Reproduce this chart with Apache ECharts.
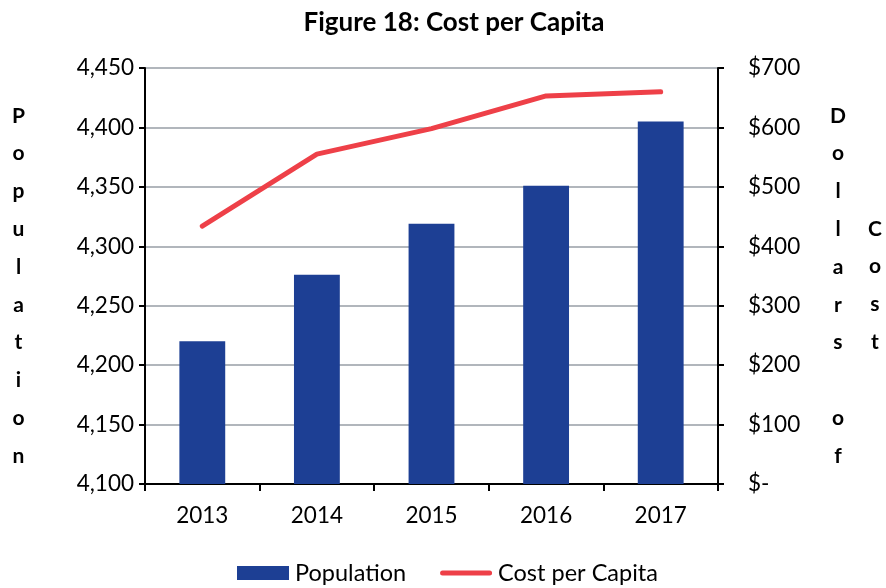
<!DOCTYPE html>
<html>
<head>
<meta charset="utf-8">
<script src="https://cdn.jsdelivr.net/npm/echarts@6/dist/echarts.min.js"></script>
<style>
  html, body { margin: 0; padding: 0; background: #fff; }
  #chart { width: 886px; height: 588px; }
</style>
</head>
<body>
<div id="chart"></div>
<script>
// Yearly population and cost per capita
const years = ['2013', '2014', '2015', '2016', '2017'];
const population = [4220, 4276, 4319, 4351, 4405];
const costPerCapita = [434, 555, 598, 653, 660];

const FONT = 'Lato';
const chart = echarts.init(document.getElementById('chart'));

// Stacked (one letter per line) axis titles
const stack = s => s.split('').join('\n');
const letterStyle = { fontFamily: FONT, fontSize: 21, fontWeight: 'bold', fill: '#000', lineHeight: 37.8, textAlign: 'center' };
const tickFont = { fontFamily: FONT, fontSize: 22.5, color: '#000' };

chart.setOption({
  animation: false,
  title: {
    text: 'Figure 18: Cost per Capita',
    left: 449, top: 5, textAlign: 'center',
    textStyle: { fontFamily: FONT, fontSize: 26, fontWeight: 'bold', color: '#000' }
  },
  grid: { left: 145, right: 168, top: 68, bottom: 104 },
  legend: {
    bottom: -2, left: 232,
    itemWidth: 52, itemHeight: 14, itemGap: 34,
    textStyle: { fontFamily: FONT, fontSize: 23.5, color: '#000', padding: [0, 0, 0, 1] },
    data: [
      { name: 'Population', icon: 'rect' },
      { name: 'Cost per Capita', icon: 'path://M2.5,0 H49.5 A2.5,2.5 0 0 1 49.5,5 H2.5 A2.5,2.5 0 0 1 2.5,0 Z' }
    ]
  },
  xAxis: {
    type: 'category', data: years,
    axisLine: { lineStyle: { color: '#000', width: 2 } },
    axisTick: { show: true, length: 7, lineStyle: { color: '#000', width: 2 } },
    axisLabel: Object.assign({ margin: 20 }, tickFont)
  },
  yAxis: [
    {
      type: 'value', min: 4100, max: 4450, interval: 50,
      axisLine: { show: true, lineStyle: { color: '#000', width: 2 } },
      axisTick: { show: true, length: 6, lineStyle: { color: '#000', width: 2 } },
      axisLabel: Object.assign({ margin: 11, formatter: v => v.toLocaleString('en-US') }, tickFont),
      splitLine: { lineStyle: { color: '#b1b6bc', width: 2 } }
    },
    {
      type: 'value', min: 0, max: 700, interval: 100,
      axisLine: { show: true, lineStyle: { color: '#000', width: 2 } },
      axisTick: { show: true, length: 6, lineStyle: { color: '#000', width: 2 } },
      axisLabel: Object.assign({ margin: 30, align: 'left',
        formatter: v => v === 0 ? '$-' : '$' + v }, tickFont),
      splitLine: { show: false }
    }
  ],
  series: [
    {
      name: 'Population', type: 'bar', data: population,
      barWidth: '40%',
      itemStyle: { color: '#1d3f94' }
    },
    {
      name: 'Cost per Capita', type: 'line', yAxisIndex: 1, data: costPerCapita,
      symbol: 'none',
      lineStyle: { color: '#ee4048', width: 5, cap: 'round' },
      itemStyle: { color: '#ee4048' }
    }
  ],
  graphic: [
    { type: 'text', left: 12, top: 97, style: Object.assign({ text: stack('Population') }, letterStyle) },
    { type: 'text', left: 830, top: 97, style: Object.assign({ text: 'D\no\nl\nl\na\nr\ns\n \no\nf' }, letterStyle) },
    { type: 'text', left: 868, top: 210, style: Object.assign({ text: stack('Cost') }, letterStyle) }
  ]
});
</script>
</body>
</html>
